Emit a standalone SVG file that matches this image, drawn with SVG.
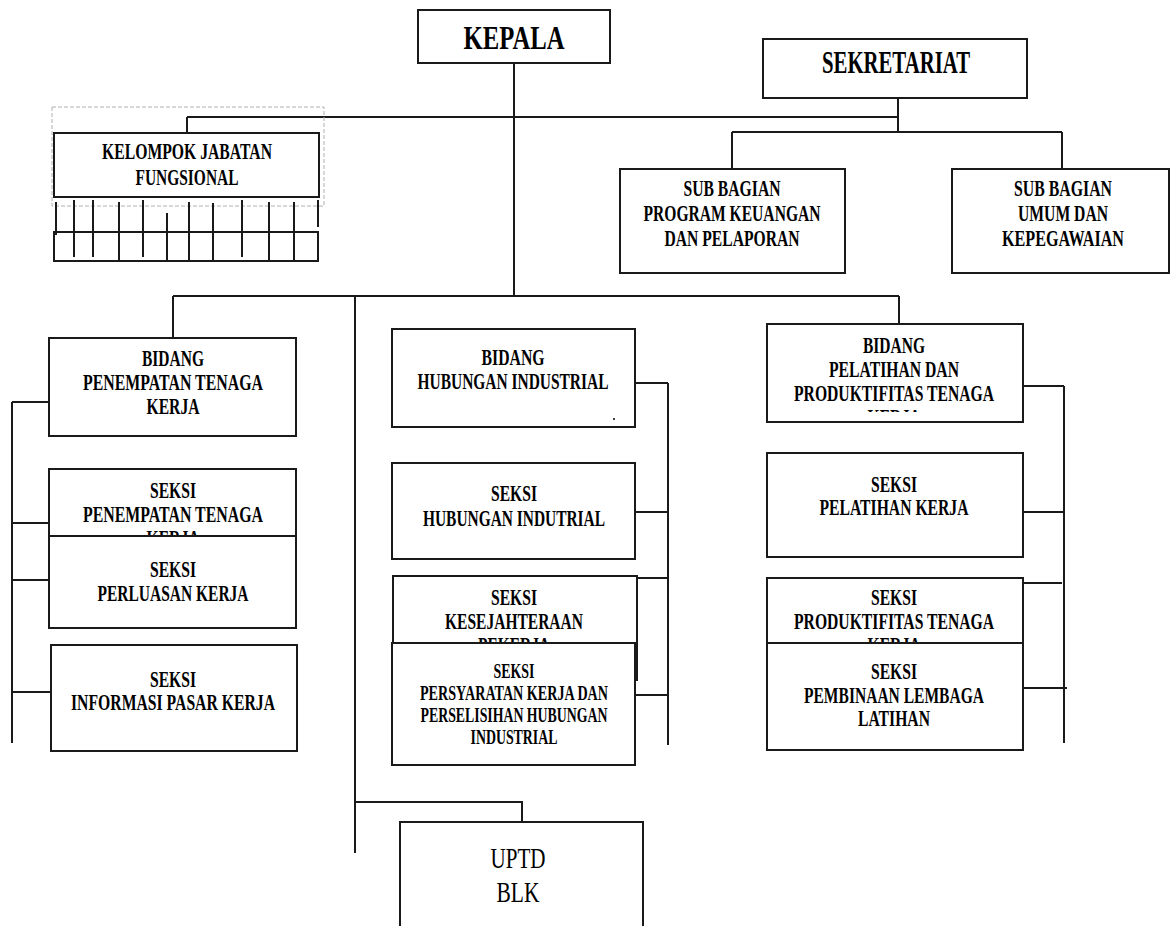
<svg xmlns="http://www.w3.org/2000/svg" width="1171" height="926" viewBox="0 0 1171 926">
<style>
  .box { fill: #ffffff; stroke: #1a1a1a; stroke-width: 2; }
  .ln { fill: none; stroke: #1a1a1a; stroke-width: 2; }
  .dash { fill: none; stroke: #b0b0b0; stroke-width: 1; stroke-dasharray: 4 2; }
  text { font-family: "Liberation Serif", "Times New Roman", serif; font-weight: bold; fill: #000; text-anchor: middle; }
  .t { font-size: 22.5px; }
  .s { font-size: 20px; }
  .big { font-size: 34px; }
  .mid { font-size: 31px; }
  .up { font-size: 30px; font-weight: normal; }
</style>
<defs>
  <clipPath id="clipPel"><rect x="767" y="324" width="256" height="88"/></clipPath>
</defs>
<rect width="1171" height="926" fill="#ffffff"/>

<g id="connectors">
  <path class="ln" d="M514 63 V296"/>
  <path class="ln" d="M187 117 H898"/>
  <path class="ln" d="M187 117 V133"/>
  <path class="ln" d="M898 98 V132"/>
  <path class="ln" d="M732 132 H1062"/>
  <path class="ln" d="M732 132 V169"/>
  <path class="ln" d="M1062 132 V169"/>
  <path class="ln" d="M173 296 H899"/>
  <path class="ln" d="M173 296 V338"/>
  <path class="ln" d="M355 296 V853"/>
  <path class="ln" d="M899 296 V324"/>
  <path class="ln" d="M355 802 H522 V822"/>
  <path class="ln" d="M12 402 V743"/>
  <path class="ln" d="M12 402 H49"/>
  <path class="ln" d="M12 523 H49"/>
  <path class="ln" d="M12 580 H49"/>
  <path class="ln" d="M12 692 H51"/>
  <path class="ln" d="M668 383 V745"/>
  <path class="ln" d="M635 383 H668"/>
  <path class="ln" d="M635 512 H668"/>
  <path class="ln" d="M637 578 H668"/>
  <path class="ln" d="M635 695 H668"/>
  <path class="ln" d="M1064 386 V743"/>
  <path class="ln" d="M1023 386 H1064"/>
  <path class="ln" d="M1023 512 H1064"/>
  <path class="ln" d="M1023 583 H1062"/>
  <path class="ln" d="M1023 688 H1067"/>
</g>

<g id="kepala">
  <rect class="box" x="418" y="10" width="192" height="53"/>
  <text class="big" x="514" y="49" textLength="101" lengthAdjust="spacingAndGlyphs">KEPALA</text>
</g>

<g id="sekretariat">
  <rect class="box" x="763" y="39" width="264" height="59"/>
  <text class="mid" x="896" y="73" textLength="148" lengthAdjust="spacingAndGlyphs">SEKRETARIAT</text>
</g>

<g id="kelompok-jabatan-fungsional">
  <rect class="dash" x="52" y="107" width="272" height="99"/>
  <rect class="box" x="54" y="133" width="265" height="64"/>
  <text class="t" x="187" y="159" textLength="170" lengthAdjust="spacingAndGlyphs">KELOMPOK JABATAN</text>
  <text class="t" x="187" y="185" textLength="103" lengthAdjust="spacingAndGlyphs">FUNGSIONAL</text>
  <rect class="box" x="54" y="232" width="264" height="29" fill="none"/>
  <path class="ln" d="M56 202 V235 M74 200 V257 M93 200 V257 M119 202 V260 M143 200 V257 M167 213 V260 M189 202 V260 M213 203 V260 M242 200 V257 M269 202 V260 M294 202 V260 M318 200 V227"/>
</g>

<g id="sub-bagian-program">
  <rect class="box" x="620" y="169" width="225" height="104"/>
  <text class="t" x="732" y="196" textLength="97" lengthAdjust="spacingAndGlyphs">SUB BAGIAN</text>
  <text class="t" x="732" y="221" textLength="177" lengthAdjust="spacingAndGlyphs">PROGRAM KEUANGAN</text>
  <text class="t" x="732" y="246" textLength="135" lengthAdjust="spacingAndGlyphs">DAN PELAPORAN</text>
</g>

<g id="sub-bagian-umum">
  <rect class="box" x="952" y="169" width="217" height="104"/>
  <text class="t" x="1063" y="196" textLength="98" lengthAdjust="spacingAndGlyphs">SUB BAGIAN</text>
  <text class="t" x="1063" y="221" textLength="90" lengthAdjust="spacingAndGlyphs">UMUM DAN</text>
  <text class="t" x="1063" y="246" textLength="122" lengthAdjust="spacingAndGlyphs">KEPEGAWAIAN</text>
</g>

<g id="bidang-penempatan">
  <rect class="box" x="49" y="338" width="247" height="98"/>
  <text class="t" x="173" y="366" textLength="62" lengthAdjust="spacingAndGlyphs">BIDANG</text>
  <text class="t" x="173" y="390" textLength="180" lengthAdjust="spacingAndGlyphs">PENEMPATAN TENAGA</text>
  <text class="t" x="173" y="414" textLength="53" lengthAdjust="spacingAndGlyphs">KERJA</text>
</g>

<g id="seksi-penempatan">
  <rect class="box" x="49" y="469" width="247" height="90"/>
  <text class="t" x="173" y="498" textLength="46" lengthAdjust="spacingAndGlyphs">SEKSI</text>
  <text class="t" x="173" y="522" textLength="180" lengthAdjust="spacingAndGlyphs">PENEMPATAN TENAGA</text>
  <text class="t" x="173" y="546" textLength="53" lengthAdjust="spacingAndGlyphs">KERJA</text>
</g>

<g id="seksi-perluasan">
  <rect class="box" x="49" y="536" width="247" height="92"/>
  <text class="t" x="173" y="577" textLength="46" lengthAdjust="spacingAndGlyphs">SEKSI</text>
  <text class="t" x="173" y="601" textLength="151" lengthAdjust="spacingAndGlyphs">PERLUASAN KERJA</text>
</g>

<g id="seksi-informasi">
  <rect class="box" x="51" y="645" width="246" height="106"/>
  <text class="t" x="173" y="687" textLength="46" lengthAdjust="spacingAndGlyphs">SEKSI</text>
  <text class="t" x="173" y="710" textLength="204" lengthAdjust="spacingAndGlyphs">INFORMASI PASAR KERJA</text>
</g>

<g id="bidang-hubungan-industrial">
  <rect class="box" x="392" y="329" width="243" height="98"/>
  <text class="t" x="513" y="365" textLength="63" lengthAdjust="spacingAndGlyphs">BIDANG</text>
  <text class="t" x="513" y="389" textLength="191" lengthAdjust="spacingAndGlyphs">HUBUNGAN INDUSTRIAL</text>
  <circle cx="614" cy="419" r="1" fill="#000"/>
</g>

<g id="seksi-hubungan-industrial">
  <rect class="box" x="392" y="463" width="243" height="96"/>
  <text class="t" x="514" y="501" textLength="46" lengthAdjust="spacingAndGlyphs">SEKSI</text>
  <text class="t" x="514" y="526" textLength="182" lengthAdjust="spacingAndGlyphs">HUBUNGAN INDUTRIAL</text>
</g>

<g id="seksi-kesejahteraan">
  <rect class="box" x="393" y="576" width="244" height="104"/>
  <text class="t" x="514" y="605" textLength="46" lengthAdjust="spacingAndGlyphs">SEKSI</text>
  <text class="t" x="514" y="629" textLength="138" lengthAdjust="spacingAndGlyphs">KESEJAHTERAAN</text>
  <text class="t" x="514" y="653" textLength="72" lengthAdjust="spacingAndGlyphs">PEKERJA</text>
</g>

<g id="seksi-persyaratan">
  <rect class="box" x="392" y="643" width="243" height="122"/>
  <text class="s" x="514" y="678" textLength="41" lengthAdjust="spacingAndGlyphs">SEKSI</text>
  <text class="s" x="514" y="700" textLength="188" lengthAdjust="spacingAndGlyphs">PERSYARATAN KERJA DAN</text>
  <text class="s" x="514" y="722" textLength="187" lengthAdjust="spacingAndGlyphs">PERSELISIHAN HUBUNGAN</text>
  <text class="s" x="514" y="744" textLength="87" lengthAdjust="spacingAndGlyphs">INDUSTRIAL</text>
</g>

<g id="bidang-pelatihan">
  <rect class="box" x="767" y="324" width="256" height="98"/>
  <g clip-path="url(#clipPel)">
    <text class="t" x="894" y="353" textLength="62" lengthAdjust="spacingAndGlyphs">BIDANG</text>
    <text class="t" x="894" y="377" textLength="130" lengthAdjust="spacingAndGlyphs">PELATIHAN DAN</text>
    <text class="t" x="894" y="401" textLength="200" lengthAdjust="spacingAndGlyphs">PRODUKTIFITAS TENAGA</text>
    <text class="t" x="894" y="425" textLength="53" lengthAdjust="spacingAndGlyphs">KERJA</text>
  </g>
</g>

<g id="seksi-pelatihan">
  <rect class="box" x="767" y="453" width="256" height="104"/>
  <text class="t" x="894" y="492" textLength="46" lengthAdjust="spacingAndGlyphs">SEKSI</text>
  <text class="t" x="894" y="515" textLength="149" lengthAdjust="spacingAndGlyphs">PELATIHAN KERJA</text>
</g>

<g id="seksi-produktifitas">
  <rect class="box" x="767" y="578" width="256" height="90"/>
  <text class="t" x="894" y="605" textLength="46" lengthAdjust="spacingAndGlyphs">SEKSI</text>
  <text class="t" x="894" y="629" textLength="200" lengthAdjust="spacingAndGlyphs">PRODUKTIFITAS TENAGA</text>
  <text class="t" x="894" y="653" textLength="53" lengthAdjust="spacingAndGlyphs">KERJA</text>
</g>

<g id="seksi-pembinaan">
  <rect class="box" x="767" y="643" width="256" height="107"/>
  <text class="t" x="894" y="679" textLength="46" lengthAdjust="spacingAndGlyphs">SEKSI</text>
  <text class="t" x="894" y="703" textLength="180" lengthAdjust="spacingAndGlyphs">PEMBINAAN LEMBAGA</text>
  <text class="t" x="894" y="726" textLength="72" lengthAdjust="spacingAndGlyphs">LATIHAN</text>
</g>

<g id="uptd-blk">
  <rect class="box" x="400" y="822" width="243" height="110"/>
  <text class="up" x="518" y="868" textLength="55" lengthAdjust="spacingAndGlyphs">UPTD</text>
  <text class="up" x="518" y="902" textLength="43" lengthAdjust="spacingAndGlyphs">BLK</text>
</g>
</svg>
